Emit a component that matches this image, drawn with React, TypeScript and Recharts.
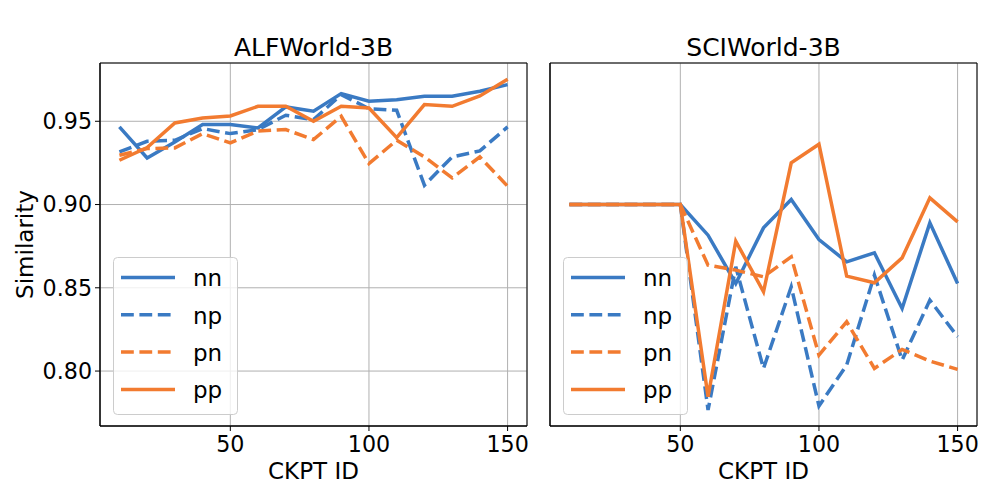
import React from 'react'
import {
  LineChart, Line, XAxis, YAxis, CartesianGrid, ReferenceArea, Legend,
} from 'recharts'

const ckpt = [10, 20, 30, 40, 50, 60, 70, 80, 90, 100, 110, 120, 130, 140, 150]

// ALFWorld-3B
const alfNn = [0.9466, 0.928, 0.9376, 0.948, 0.948, 0.946, 0.9586, 0.956, 0.9666, 0.962, 0.963, 0.965, 0.965, 0.968, 0.972]
const alfNp = [0.9316, 0.938, 0.9386, 0.9456, 0.9426, 0.945, 0.9536, 0.951, 0.966, 0.9576, 0.9566, 0.9116, 0.9286, 0.9322, 0.9466]
const alfPn = [0.9296, 0.9336, 0.934, 0.9426, 0.937, 0.9442, 0.945, 0.939, 0.953, 0.9246, 0.9386, 0.9286, 0.916, 0.9286, 0.911]
const alfPp = [0.9266, 0.9342, 0.949, 0.952, 0.9532, 0.959, 0.959, 0.95, 0.959, 0.958, 0.9402, 0.96, 0.959, 0.9652, 0.9752]

// SCIWorld-3B
const sciNn = [0.9, 0.9, 0.9, 0.9, 0.9, 0.8816, 0.8526, 0.886, 0.903, 0.879, 0.8656, 0.871, 0.8376, 0.889, 0.8526]
const sciNp = [0.9, 0.9, 0.9, 0.9, 0.9, 0.7766, 0.8626, 0.8016, 0.8506, 0.779, 0.8036, 0.8576, 0.8066, 0.8426, 0.8206]
const sciPn = [0.9, 0.9, 0.9, 0.9, 0.9, 0.8636, 0.8606, 0.8566, 0.8686, 0.8096, 0.8296, 0.8016, 0.813, 0.806, 0.801]
const sciPp = [0.9, 0.9, 0.9, 0.9, 0.9, 0.7846, 0.878, 0.8476, 0.925, 0.9362, 0.857, 0.853, 0.868, 0.904, 0.8896]

const xTicks = [50, 100, 150]
const yTicks = [0.8, 0.85, 0.9, 0.95]
const X_DOMAIN: [number, number] = [3, 157]
const Y_DOMAIN: [number, number] = [0.767, 0.985]

const BLUE = '#3a7ac3'
const ORANGE = '#f27b30'
const DASH = '12.8 5.6'
const FONT = '"DejaVu Sans", sans-serif'

const SERIES = [
  { key: 'nn', color: BLUE, dashed: false },
  { key: 'np', color: BLUE, dashed: true },
  { key: 'pn', color: ORANGE, dashed: true },
  { key: 'pp', color: ORANGE, dashed: false },
]

function rows(nn: number[], np: number[], pn: number[], pp: number[]) {
  return ckpt.map((x, i) => ({ x, nn: nn[i], np: np[i], pn: pn[i], pp: pp[i] }))
}

const alfData = rows(alfNn, alfNp, alfPn, alfPp)
const sciData = rows(sciNn, sciNp, sciPn, sciPp)

function LegendBox() {
  return (
    <svg width={125} height={158} style={{ display: 'block' }}>
      <rect x={0.5} y={0.5} width={124} height={157} rx={4} fill="#fff" fillOpacity={0.8} stroke="#cccccc" />
      {SERIES.map((s, i) => {
        const y = 20.5 + i * 37.3
        return (
          <g key={s.key}>
            <line x1={8} x2={62} y1={y} y2={y} stroke={s.color} strokeWidth={3.5}
              strokeDasharray={s.dashed ? DASH : undefined} />
            <text x={80} y={y + 8.7} fontSize={23} fontFamily={FONT} fill="#000">{s.key}</text>
          </g>
        )
      })}
    </svg>
  )
}

type PanelProps = {
  data: ReturnType<typeof rows>
  showYLabels: boolean
  width: number
  margin: { top: number; right: number; bottom: number; left: number }
  yAxisWidth: number
}

function Panel({ data, showYLabels, width, margin, yAxisWidth }: PanelProps) {
  const tickStyle = { fontSize: 22.2, fill: '#000', fontFamily: FONT }
  return (
    <LineChart width={width} height={498} data={data} margin={margin}>
      <CartesianGrid stroke="#b0b0b0" strokeWidth={1} />
      <XAxis
        type="number" dataKey="x" domain={X_DOMAIN} ticks={xTicks} allowDataOverflow
        height={72} tickSize={5} tickMargin={5} tick={tickStyle}
        stroke="#000" tickLine={{ stroke: '#000' }}
        label={{
          content: ({ viewBox }: any) => (
            <text x={viewBox.x + viewBox.width / 2} y={479} textAnchor="middle"
              fontSize={23} fontFamily={FONT} fill="#000">CKPT ID</text>
          ),
        }}
      />
      <YAxis
        type="number" domain={Y_DOMAIN} ticks={yTicks} allowDataOverflow
        width={yAxisWidth} tickSize={5} tickMargin={3}
        tick={showYLabels ? tickStyle : false}
        tickFormatter={(v: number) => v.toFixed(2)}
        stroke="#000" tickLine={{ stroke: '#000' }}
        label={showYLabels ? {
          content: ({ viewBox }: any) => (
            <text x={32.5} y={viewBox.y + viewBox.height / 2} textAnchor="middle"
              transform={`rotate(-90, 32.5, ${viewBox.y + viewBox.height / 2})`}
              fontSize={23} fontFamily={FONT} fill="#000">Similarity</text>
          ),
        } : undefined}
      />
      <ReferenceArea x1={X_DOMAIN[0]} x2={X_DOMAIN[1]} y1={Y_DOMAIN[0]} y2={Y_DOMAIN[1]}
        fill="none" stroke="#000" strokeWidth={1} fillOpacity={0} ifOverflow="visible" />
      {SERIES.map((s) => (
        <Line key={s.key} type="linear" dataKey={s.key} stroke={s.color} strokeWidth={3.5}
          strokeDasharray={s.dashed ? DASH : undefined} dot={false} activeDot={false}
          isAnimationActive={false} />
      ))}
      <Legend layout="vertical" align="center" verticalAlign="middle"
        wrapperStyle={{ left: margin.left + yAxisWidth + 12.5, top: 256.5, width: 125, height: 158 }}
        content={() => <LegendBox />} />
    </LineChart>
  )
}

export default function App() {
  return (
    <div style={{ position: 'absolute', left: 0, top: 0, width: 996, height: 498, background: '#fff', fontFamily: FONT }}>
      <div style={{ position: 'absolute', left: 0, top: 0 }}>
        <Panel data={alfData} showYLabels width={540} yAxisWidth={100}
          margin={{ top: 63, right: 13, bottom: 0, left: 0 }} />
      </div>
      <div style={{ position: 'absolute', left: 540, top: 0 }}>
        <Panel data={sciData} showYLabels={false} width={456} yAxisWidth={10}
          margin={{ top: 63, right: 19, bottom: 0, left: 0 }} />
      </div>
      <svg width={996} height={70} style={{ position: 'absolute', left: 0, top: 0, pointerEvents: 'none' }}>
        <text x={313.5} y={55.7} textAnchor="middle" fontSize={25} fontFamily={FONT} fill="#000">ALFWorld-3B</text>
        <text x={763.5} y={55.7} textAnchor="middle" fontSize={25} fontFamily={FONT} fill="#000">SCIWorld-3B</text>
      </svg>
    </div>
  )
}
